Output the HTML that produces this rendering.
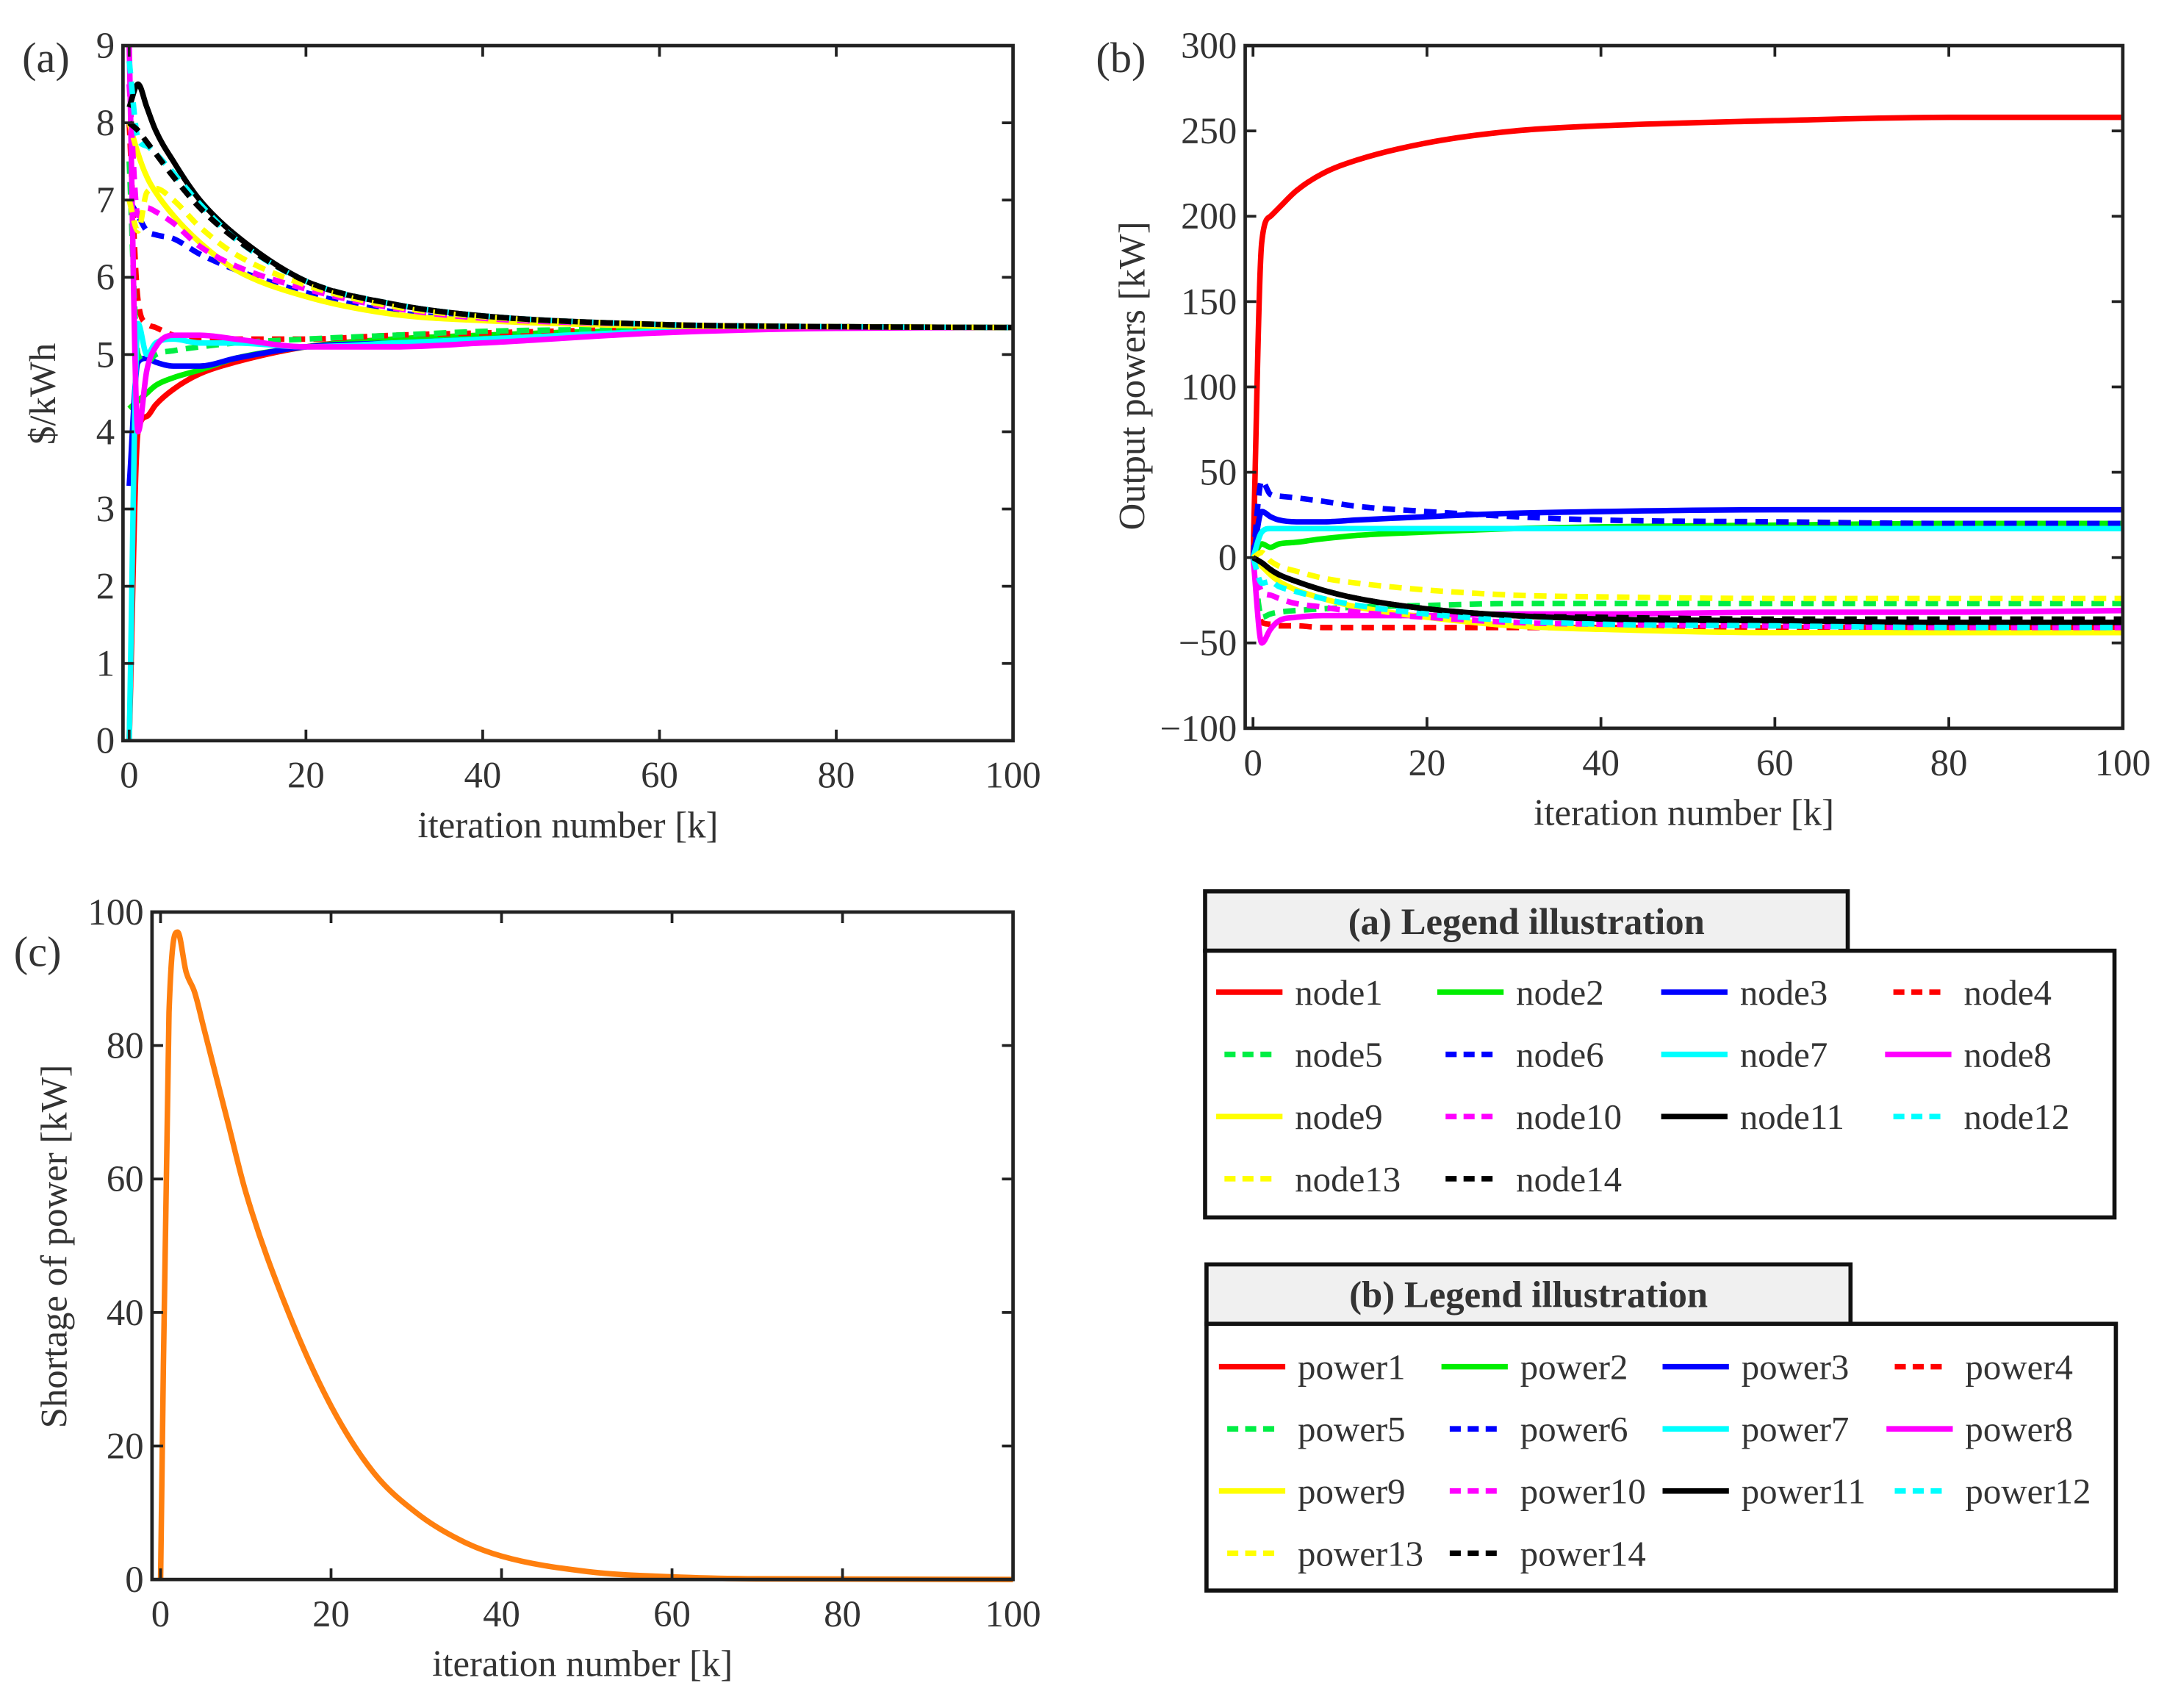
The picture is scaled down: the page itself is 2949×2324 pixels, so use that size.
<!DOCTYPE html>
<html><head><meta charset="utf-8"><style>
html,body{margin:0;padding:0;background:#fff}
svg{display:block}
text{font-family:"Liberation Serif",serif;fill:#333}
</style></head><body>
<svg id="fig" width="2949" height="2324" viewBox="0 0 1568 1236" preserveAspectRatio="none" xmlns="http://www.w3.org/2000/svg"></svg>
<script>
const ks = [0,1,2,3,5,8,12,20,30,40,60,80,100];
const colors = ['#ff0000','#00ee00','#0000ff','#ff0000','#00ee44','#0000ff','#00ffff','#ff00ff','#ffff00','#ff00ff','#000000','#00ffff','#ffff00','#000000'];
const dashed = [false,false,false,true,true,true,false,false,false,true,false,true,true,true];
const nodeVals = [
[0,4.0,4.2,4.35,4.55,4.75,4.9,5.1,5.2,5.25,5.32,5.35,5.35],
[4.3,4.4,4.5,4.6,4.7,4.8,4.95,5.1,5.2,5.25,5.32,5.35,5.35],
[3.3,4.9,4.95,4.9,4.85,4.85,4.95,5.1,5.15,5.2,5.3,5.35,5.35],
[8.0,5.7,5.4,5.35,5.25,5.2,5.2,5.2,5.25,5.28,5.33,5.35,5.35],
[7.5,5.0,4.9,5.0,5.05,5.1,5.15,5.2,5.25,5.3,5.33,5.35,5.35],
[7.0,6.8,6.6,6.55,6.5,6.3,6.1,5.8,5.55,5.45,5.38,5.36,5.35],
[0,5.4,5.0,5.15,5.2,5.15,5.15,5.1,5.15,5.2,5.3,5.35,5.35],
[9.0,4.0,4.8,5.1,5.25,5.25,5.2,5.1,5.1,5.15,5.28,5.34,5.35],
[8.0,7.6,7.3,7.1,6.8,6.45,6.1,5.75,5.52,5.44,5.37,5.36,5.35],
[8.5,6.8,6.9,6.85,6.7,6.4,6.15,5.85,5.6,5.47,5.39,5.36,5.35],
[8.2,8.5,8.2,7.9,7.5,7.0,6.55,5.95,5.65,5.5,5.39,5.36,5.35],
[8.8,7.8,7.7,7.6,7.35,6.95,6.5,5.95,5.65,5.5,5.39,5.36,5.35],
[7.0,6.6,7.1,7.15,7.0,6.65,6.3,5.9,5.62,5.49,5.39,5.36,5.35],
[8.0,7.9,7.75,7.6,7.3,6.9,6.5,5.95,5.65,5.5,5.39,5.36,5.35]];
const powerVals = [
[0,185,200,205,215,225,233,243,250,253,256,258,258],
[0,8,6,8,9,11,13,15,17,18,19,20,20],
[0,27,24,22,21,21,22,24,26,27,28,28,28],
[0,-38,-39,-40,-40,-41,-41,-41,-41,-41,-41,-41,-41],
[0,-35,-33,-32,-31,-30,-29,-28,-27,-27,-27,-27,-27],
[0,45,37,36,35,33,30,27,24,22,21,20,20],
[0,15,17,17,17,17,17,17,17,17,17,17,17],
[0,-50,-42,-37,-35,-34,-34,-34,-33,-33,-32,-32,-31],
[0,-5,-10,-14,-19,-24,-29,-35,-40,-42,-44,-44,-44],
[0,-20,-22,-24,-27,-29,-32,-35,-38,-39,-40,-41,-41],
[0,-3,-7,-10,-14,-19,-24,-30,-34,-36,-37,-38,-38],
[0,-15,-14,-17,-20,-24,-28,-33,-37,-39,-40,-41,-41],
[0,3,-2,-5,-8,-12,-15,-19,-22,-23,-24,-24,-24],
[0,-3,-7,-10,-14,-19,-24,-30,-34,-35,-36,-36,-36]];
const shortK = [0,1,2,3,4,5,8,10,15,20,25,30,35,40,50,60,70,100];
const shortVals = [0,85,97,91,88,83,68,58,40,26,16,10,6,3.5,1.2,0.4,0.1,0];
const xTicks = [0,20,40,60,80,100];
const yTicksA = [0,1,2,3,4,5,6,7,8,9];
const yTicksB = [-100,-50,0,50,100,150,200,250,300];
const yTicksC = [0,20,40,60,80,100];

const NS='http://www.w3.org/2000/svg';
const svg=document.getElementById('fig');
function mk(tag,attrs,parent){const e=document.createElementNS(NS,tag);for(const k in attrs)e.setAttribute(k,attrs[k]);(parent||svg).appendChild(e);return e;}
function txt(s,x,y,size,anchor,parent,extra){const t=mk('text',Object.assign({x:x,y:y,'font-size':size,'text-anchor':anchor||'middle'},extra||{}),parent);t.textContent=s;return t;}

function panel(name,box,xr,yr,yt,ylabel,lbl){
  const g=mk('g',{});
  
  
  const sx=v=>box.l+(v-xr[0])/(xr[1]-xr[0])*(box.r-box.l);
  const sy=v=>box.b-(v-yr[0])/(yr[1]-yr[0])*(box.b-box.t);
  return {g,sx,sy,draw(){
    const fr=mk('rect',{x:box.l,y:box.t,width:box.r-box.l,height:box.b-box.t,fill:'none',stroke:'#222','stroke-width':2.5},g);
    
    
    xTicks.forEach(v=>{const x=sx(v);
      mk('line',{x1:x,y1:box.b,x2:x,y2:box.b-8,stroke:'#222','stroke-width':2},g);
      mk('line',{x1:x,y1:box.t,x2:x,y2:box.t+8,stroke:'#222','stroke-width':2},g);
      const t=txt(String(v),x,box.b+34,27,'middle',g);
      
      });
    yt.forEach(v=>{const y=sy(v);
      mk('line',{x1:box.l,y1:y,x2:box.l+8,y2:y,stroke:'#222','stroke-width':2},g);
      mk('line',{x1:box.r,y1:y,x2:box.r-8,y2:y,stroke:'#222','stroke-width':2},g);
      const t=txt(v<0?'\u2212'+(-v):String(v),box.l-6,y+9,27,'end',g);
      
      });
    const xl=txt('iteration number [k]',(box.l+box.r)/2,box.b+70,27,'middle',g);
    
    
    const yl=txt(ylabel[0],0,0,27,'middle',g,{transform:'translate('+ylabel[2]+','+ylabel[3]+') rotate(-90)'});
    
    
    const pl=txt(lbl[0],lbl[1],lbl[2],31,'start',g);
    pl.setAttribute('fill','#000');
    
    
  }};
}
function monoPath(P){
  const n=P.length,d=[],m=new Array(n);
  for(let i=0;i<n-1;i++)d.push((P[i+1][1]-P[i][1])/(P[i+1][0]-P[i][0]));
  m[0]=d[0];m[n-1]=d[n-2];
  for(let i=1;i<n-1;i++){m[i]=(d[i-1]*d[i]<=0)?0:(d[i-1]+d[i])/2;}
  for(let i=0;i<n-1;i++){
    if(d[i]===0){m[i]=0;m[i+1]=0;continue;}
    const a=m[i]/d[i],b=m[i+1]/d[i],s=a*a+b*b;
    if(s>9){const t=3/Math.sqrt(s);m[i]=t*a*d[i];m[i+1]=t*b*d[i];}
  }
  let s='M'+P[0][0].toFixed(1)+','+P[0][1].toFixed(1);
  for(let i=0;i<n-1;i++){
    const h=(P[i+1][0]-P[i][0])/3;
    s+=' C'+(P[i][0]+h).toFixed(1)+','+(P[i][1]+m[i]*h).toFixed(1)+' '+(P[i+1][0]-h).toFixed(1)+','+(P[i+1][1]-m[i+1]*h).toFixed(1)+' '+P[i+1][0].toFixed(1)+','+P[i+1][1].toFixed(1);
  }
  return s;
}
function line(p,kx,vals,color,dash,name){
  const P=kx.map((k,i)=>[p.sx(k),p.sy(vals[i])]);
  const pl=mk('path',{d:monoPath(P),fill:'none',stroke:color,'stroke-width':4,'stroke-linejoin':'round'},p.g);
  if(dash) pl.setAttribute('stroke-dasharray','9 6');
  
  
}
const pa=panel('panel-a-price',{l:89,r:733,t:33,b:536},[-0.7,100],[0,9],yTicksA,['$/kWh',0,40,285],['(a)',16,52]);
nodeVals.forEach((v,i)=>line(pa,ks,v,colors[i],dashed[i],'node'+(i+1)+'-line'));
pa.draw();
const pb=panel('panel-b-power',{l:901,r:1536,t:33,b:527},[-0.9,100],[-100,300],yTicksB,['Output powers [kW]',0,828,272],['(b)',793,52]);
powerVals.forEach((v,i)=>line(pb,ks,v,colors[i],dashed[i],'power'+(i+1)+'-line'));
pb.draw();
const pc=panel('panel-c-shortage',{l:110,r:733,t:660,b:1143},[-1,100],[0,100],yTicksC,['Shortage of power [kW]',0,48,902],['(c)',10,699]);
line(pc,shortK,shortVals,'#ff7f0e',false,'shortage-line');
pc.draw();

function legend(name,title,tb,mb,prefix,rows,cols){
  const g=mk('g',{});
  
  
  mk('rect',{x:tb[0],y:tb[1],width:tb[2]-tb[0],height:tb[3]-tb[1],fill:'#f0f0f0',stroke:'#111','stroke-width':3},g);
  const tt=txt(title,(tb[0]+tb[2])/2,tb[3]-12,27,'middle',g,{'font-weight':'bold'});
  tt.setAttribute('fill','#000');
  
  
  mk('rect',{x:mb[0],y:mb[1],width:mb[2]-mb[0],height:mb[3]-mb[1],fill:'#fff',stroke:'#111','stroke-width':3},g);
  for(let i=0;i<14;i++){
    const r=Math.floor(i/4),c=i%4;const y=rows[r];const x=cols[c];
    const l=mk('line',{x1:x,y1:y,x2:x+48,y2:y,stroke:colors[i],'stroke-width':4},g);
    if(dashed[i]){l.setAttribute('stroke-dasharray','8 5');l.setAttribute('x1',x+6);l.setAttribute('x2',x+42);}
    const t=txt(prefix+(i+1),x+57,y+9,26,'start',g);
    t.setAttribute('fill','#222');
    
    
  }
}
legend('legend-a','(a) Legend illustration',[872,645,1337,688],[872,688,1530,881],'node',[718,763,808,853],[880,1040,1202,1364]);
legend('legend-b','(b) Legend illustration',[873,915,1339,958],[873,958,1531,1151],'power',[989,1034,1079,1124],[882,1043,1203,1365]);
</script>
</body></html>
